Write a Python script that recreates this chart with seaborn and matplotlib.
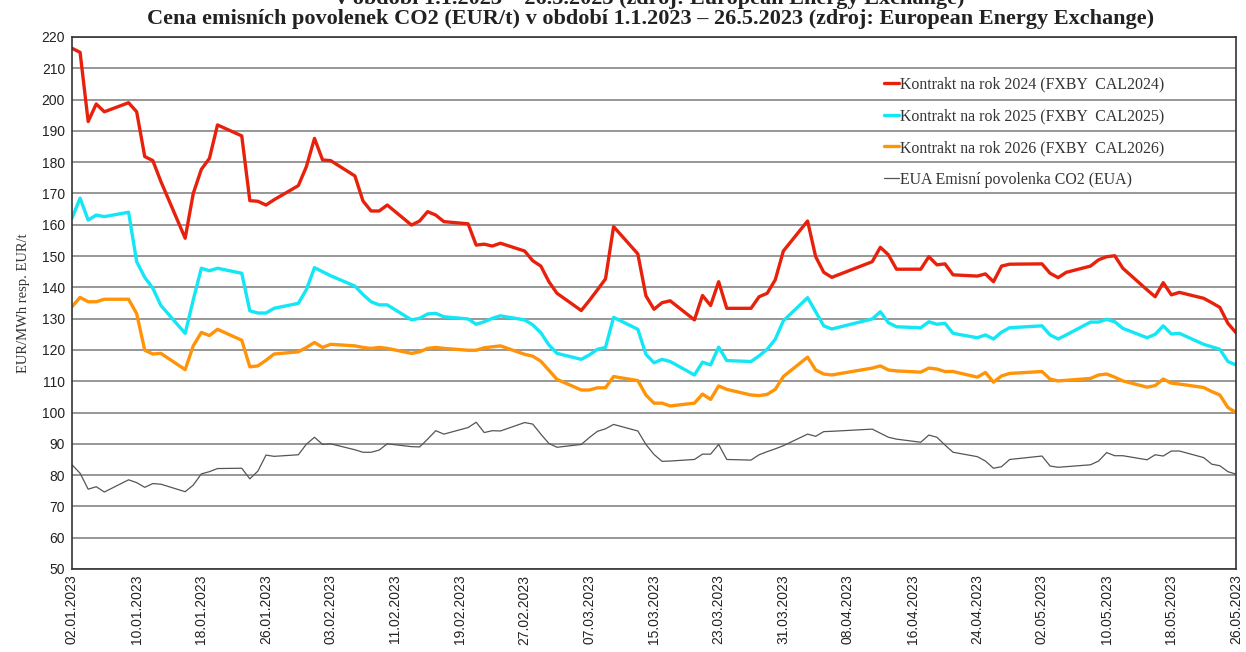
import numpy as np
import pandas as pd
import matplotlib
matplotlib.use("Agg")
import matplotlib.pyplot as plt
import matplotlib.dates as mdates
import seaborn as sns

# ---- data -------------------------------------------------------------
holidays = ["2023-04-07", "2023-04-10", "2023-05-01"]
dates = pd.bdate_range("2023-01-02", "2023-05-26")
dates = dates[~dates.isin(pd.to_datetime(holidays))]

cal2024 = [216.4, 215.1, 193.0, 198.6, 196.1, 199.0, 196.1, 181.8, 180.5, 173.8,
           155.7, 170.0, 177.7, 181.2, 191.9, 188.4, 167.7, 167.5, 166.3, 168.0,
           172.5, 178.6,
           187.6, 180.7, 180.5, 175.6, 167.6, 164.4, 164.4, 166.3, 159.9, 161.2,
           164.2, 163.1, 161.0, 160.3, 153.5, 153.8, 153.2, 154.1, 151.6, 148.5,
           146.8, 141.8, 138.1, 132.6, 135.8, 139.2, 142.7, 159.4, 150.7, 137.3,
           133.0, 135.1, 135.7, 129.6, 137.4, 134.2, 141.8, 133.3, 133.3, 137.0,
           138.1, 142.4, 151.6,
           161.2, 149.8, 144.8, 143.2, 148.2, 152.8, 150.4, 145.8, 145.8, 149.8,
           147.2, 147.5, 144.0, 143.6, 144.3, 141.8, 146.8, 147.4,
           147.5, 144.5, 143.1, 144.8, 146.8, 148.8, 149.8, 150.1, 146.1, 139.2,
           137.0, 141.5, 137.6, 138.4, 136.5, 135.1, 133.6, 128.5, 125.5]

cal2025 = [162.1, 168.5, 161.5, 163.1, 162.6, 164.0, 148.2, 143.2, 139.7, 134.2,
           125.3, 136.0, 146.1, 145.3, 146.1, 144.5, 132.5, 131.8, 131.8, 133.3,
           134.9, 139.3,
           146.3, 145.0, 143.7, 140.4, 137.7, 135.4, 134.4, 134.4, 129.6, 130.1,
           131.5, 131.7, 130.6, 129.9, 128.2, 129.0, 130.1, 130.9, 129.6, 128.0,
           125.5, 121.6, 118.9, 117.0, 118.4, 120.2, 120.8, 130.4, 126.6, 118.6,
           115.9, 117.0, 116.3, 112.0, 116.1, 115.2, 120.9, 116.6, 116.3, 118.1,
           120.2, 123.4, 129.3,
           136.7, 132.2, 127.7, 126.7, 129.9, 132.2, 128.7, 127.4, 127.1, 129.0,
           128.2, 128.5, 125.3, 123.9, 124.8, 123.5, 125.7, 127.1,
           127.7, 124.8, 123.5, 124.8, 128.9, 128.9, 129.8, 129.0, 126.9, 123.9,
           125.0, 127.7, 125.1, 125.3, 121.8, 121.0, 120.2, 116.3, 115.2]

cal2026 = [133.8, 136.8, 135.4, 135.4, 136.2, 136.2, 131.6, 119.9, 118.7, 118.9,
           113.7, 121.3, 125.6, 124.6, 126.6, 123.1, 114.6, 114.9, 116.7, 118.7,
           119.4, 120.8,
           122.4, 120.8, 121.8, 121.3, 120.8, 120.5, 120.8, 120.5, 118.9, 119.4,
           120.5, 120.8, 120.5, 119.9, 119.9, 120.7, 121.0, 121.3, 118.6, 118.0,
           116.4, 113.5, 110.6, 107.2, 107.2, 107.9, 107.9, 111.5, 110.2, 105.6,
           103.0, 103.0, 102.1, 103.0, 105.9, 104.2, 108.5, 107.4, 105.6, 105.4,
           105.8, 107.4, 111.5,
           117.7, 113.6, 112.3, 112.0, 114.2, 114.9, 113.6, 113.3, 112.9, 114.2,
           113.9, 113.1, 113.1, 111.3, 112.8, 109.7, 111.7, 112.5,
           113.1, 110.7, 110.1, 110.3, 110.9, 112.0, 112.3, 111.3, 110.1, 108.1,
           108.6, 110.7, 109.4, 109.1, 108.0, 106.7, 105.6, 101.6, 100.0]

eua = [83.3, 80.6, 75.5, 76.3, 74.6, 78.5, 77.6, 76.1, 77.3, 77.1,
       74.7, 76.8, 80.4, 81.1, 82.1, 82.2, 78.8, 81.3, 86.4, 86.0,
       86.5, 89.9,
       92.1, 89.8, 90.0, 88.1, 87.3, 87.3, 88.0, 90.0, 89.1, 89.0,
       91.5, 94.2, 93.1, 95.2, 96.9, 93.6, 94.2, 94.1, 96.8, 96.3,
       93.1, 90.1, 88.9, 89.8, 92.0, 94.0, 94.8, 96.2, 94.1, 89.8,
       86.6, 84.4, 84.5, 85.0, 86.7, 86.7, 89.8, 85.0, 84.8, 86.5,
       87.5, 88.4, 89.4,
       93.1, 92.4, 93.9, 94.0, 94.7, 93.4, 92.1, 91.5, 90.5, 92.8,
       92.1, 89.6, 87.3, 85.9, 84.5, 82.2, 82.7, 85.0,
       86.1, 82.9, 82.5, 82.7, 83.3, 84.5, 87.2, 86.2, 86.2, 84.9,
       86.5, 86.1, 87.7, 87.7, 85.6, 83.5, 83.0, 81.1, 80.3]

labels = ["Kontrakt na rok 2024 (FXBY  CAL2024)",
          "Kontrakt na rok 2025 (FXBY  CAL2025)",
          "Kontrakt na rok 2026 (FXBY  CAL2026)",
          "EUA Emisní povolenka CO2 (EUA)"]
title_line1 = "v období 1.1.2023 – 26.5.2023 (zdroj: European Energy Exchange)"
title_line2 = "Cena emisních povolenek CO2 (EUR/t) v období 1.1.2023 – 26.5.2023 (zdroj: European Energy Exchange)"
ylabel = "EUR/MWh resp. EUR/t"

# ---- styling ----------------------------------------------------------
sns.set_style("white")
plt.rcParams["font.family"] = ["Liberation Sans", "DejaVu Sans"]
serif = ["Liberation Serif", "DejaVu Serif"]

colors = ["#e8210d", "#13e6f5", "#ff9408", "#555555"]
widths = [2.4, 2.4, 2.4, 0.9]
series = [cal2024, cal2025, cal2026, eua]

fig = plt.figure(figsize=(12.46, 6.52), dpi=100)
ax = fig.add_axes([72 / 1246, 1 - 569 / 652, 1164 / 1246, 532 / 652])

for vals, lab, col, lw in zip(series, labels, colors, widths):
    df = pd.DataFrame({"date": dates, "value": vals})
    sns.lineplot(data=df, x="date", y="value", ax=ax, color=col,
                 linewidth=lw, label=lab)

ax.set_ylim(50, 220)
ax.set_yticks(np.arange(50, 221, 10))
ax.set_xlim(pd.Timestamp("2023-01-02"), pd.Timestamp("2023-05-26"))
xt = pd.date_range("2023-01-02", "2023-05-26", freq="8D")
ax.set_xticks(xt)
ax.xaxis.set_major_formatter(mdates.DateFormatter("%d.%m.%Y"))
ax.tick_params(axis="x", rotation=90, labelsize=10, length=0, pad=4,
               labelcolor="#222222")
ax.tick_params(axis="y", labelsize=10, length=0, pad=5, labelcolor="#222222")
ax.set_xlabel("")
ax.set_ylabel(ylabel, fontsize=10.5, color="#333333", family=serif, labelpad=8)

ax.grid(axis="y", color="#8f8f8f", linewidth=1.3)
ax.grid(axis="x", visible=False)
ax.set_axisbelow(True)
for s in ax.spines.values():
    s.set_visible(True)
    s.set_color("#333333")
    s.set_linewidth(1.2)

leg = ax.legend(loc="upper left", bbox_to_anchor=(0.698, 0.926),
                frameon=False, handlelength=0.9, handletextpad=0.08,
                labelspacing=1.0, borderpad=0, borderaxespad=0,
                prop={"family": serif, "size": 11.4})
for t in leg.get_texts():
    t.set_color("#333333")

fig.text(0.522, 1.002, title_line1, ha="center", va="center", fontsize=16,
         fontweight="bold", family=serif, color="#222222")
fig.text(0.522, 1 - 19 / 652, title_line2, ha="center", va="center",
         fontsize=16, fontweight="bold", family=serif, color="#222222")

fig.savefig("out.png", dpi=100)
